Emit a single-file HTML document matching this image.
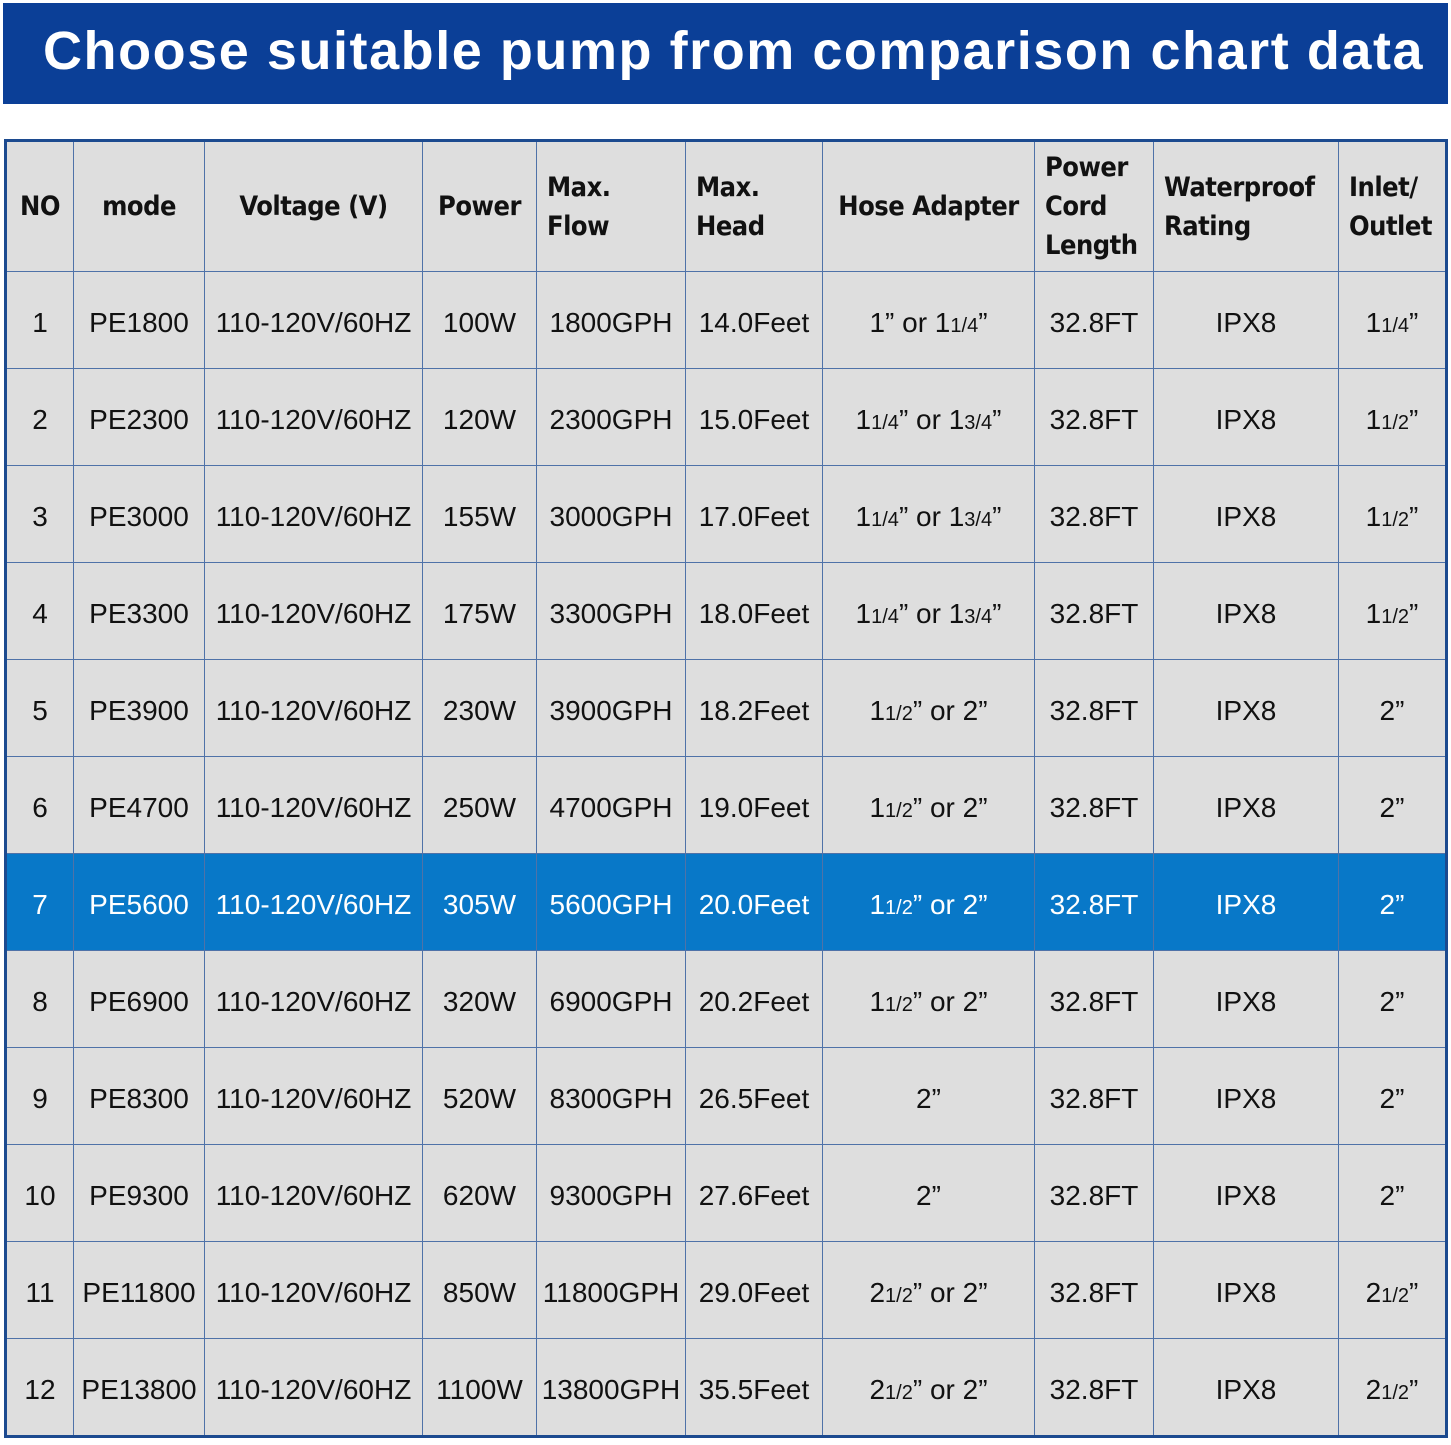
<!DOCTYPE html>
<html><head><meta charset="utf-8"><style>
html,body{margin:0;padding:0;background:#fff;width:1451px;height:1445px;overflow:hidden}
.ban{position:absolute;left:3px;top:3px;width:1445px;height:101px;background:#0b3f97;color:#fff;font:bold 54px "Liberation Sans",sans-serif;letter-spacing:1.55px;line-height:96px;padding-left:40px;box-sizing:border-box;white-space:nowrap}
table{position:absolute;left:4px;top:139px;border-collapse:collapse;table-layout:fixed;border:3px solid #1c4a8f}
td{border:1.5px solid #4f72a8;background:#dedede;font:28px "Liberation Sans",sans-serif;color:#111;text-align:center;padding:6px 0 0 0;white-space:nowrap;height:90px}
tr.h td{height:129px;padding:0 0 0 10px;font:bold 27px "DejaVu Sans","Liberation Sans",sans-serif;font-stretch:condensed;letter-spacing:-0.5px;line-height:39px;text-align:left}
tr.h td.c{text-align:center;padding:0}
tr.s td{background:#0878c8;color:#fff}
small{font-size:20px}
</style></head><body>
<div class="ban">Choose suitable pump from comparison chart data</div>
<table>
<colgroup><col style="width:68px"><col style="width:131px"><col style="width:218px"><col style="width:114px"><col style="width:149px"><col style="width:137px"><col style="width:212px"><col style="width:119px"><col style="width:185px"><col style="width:108px"></colgroup>
<tr class="h"><td class="c">NO</td><td class="c">mode</td><td class="c">Voltage (V)</td><td class="c">Power</td><td>Max.<br>Flow</td><td>Max.<br>Head</td><td class="c">Hose Adapter</td><td>Power<br>Cord<br>Length</td><td>Waterproof<br>Rating</td><td>Inlet/<br>Outlet</td></tr>
<tr><td>1</td><td>PE1800</td><td>110-120V/60HZ</td><td>100W</td><td>1800GPH</td><td>14.0Feet</td><td>1” or 1<small>1/4</small>”</td><td>32.8FT</td><td>IPX8</td><td>1<small>1/4</small>”</td></tr>
<tr><td>2</td><td>PE2300</td><td>110-120V/60HZ</td><td>120W</td><td>2300GPH</td><td>15.0Feet</td><td>1<small>1/4</small>” or 1<small>3/4</small>”</td><td>32.8FT</td><td>IPX8</td><td>1<small>1/2</small>”</td></tr>
<tr><td>3</td><td>PE3000</td><td>110-120V/60HZ</td><td>155W</td><td>3000GPH</td><td>17.0Feet</td><td>1<small>1/4</small>” or 1<small>3/4</small>”</td><td>32.8FT</td><td>IPX8</td><td>1<small>1/2</small>”</td></tr>
<tr><td>4</td><td>PE3300</td><td>110-120V/60HZ</td><td>175W</td><td>3300GPH</td><td>18.0Feet</td><td>1<small>1/4</small>” or 1<small>3/4</small>”</td><td>32.8FT</td><td>IPX8</td><td>1<small>1/2</small>”</td></tr>
<tr><td>5</td><td>PE3900</td><td>110-120V/60HZ</td><td>230W</td><td>3900GPH</td><td>18.2Feet</td><td>1<small>1/2</small>” or 2”</td><td>32.8FT</td><td>IPX8</td><td>2”</td></tr>
<tr><td>6</td><td>PE4700</td><td>110-120V/60HZ</td><td>250W</td><td>4700GPH</td><td>19.0Feet</td><td>1<small>1/2</small>” or 2”</td><td>32.8FT</td><td>IPX8</td><td>2”</td></tr>
<tr class="s"><td>7</td><td>PE5600</td><td>110-120V/60HZ</td><td>305W</td><td>5600GPH</td><td>20.0Feet</td><td>1<small>1/2</small>” or 2”</td><td>32.8FT</td><td>IPX8</td><td>2”</td></tr>
<tr><td>8</td><td>PE6900</td><td>110-120V/60HZ</td><td>320W</td><td>6900GPH</td><td>20.2Feet</td><td>1<small>1/2</small>” or 2”</td><td>32.8FT</td><td>IPX8</td><td>2”</td></tr>
<tr><td>9</td><td>PE8300</td><td>110-120V/60HZ</td><td>520W</td><td>8300GPH</td><td>26.5Feet</td><td>2”</td><td>32.8FT</td><td>IPX8</td><td>2”</td></tr>
<tr><td>10</td><td>PE9300</td><td>110-120V/60HZ</td><td>620W</td><td>9300GPH</td><td>27.6Feet</td><td>2”</td><td>32.8FT</td><td>IPX8</td><td>2”</td></tr>
<tr><td>11</td><td>PE11800</td><td>110-120V/60HZ</td><td>850W</td><td>11800GPH</td><td>29.0Feet</td><td>2<small>1/2</small>” or 2”</td><td>32.8FT</td><td>IPX8</td><td>2<small>1/2</small>”</td></tr>
<tr><td>12</td><td>PE13800</td><td>110-120V/60HZ</td><td>1100W</td><td>13800GPH</td><td>35.5Feet</td><td>2<small>1/2</small>” or 2”</td><td>32.8FT</td><td>IPX8</td><td>2<small>1/2</small>”</td></tr>
</table>
</body></html>
